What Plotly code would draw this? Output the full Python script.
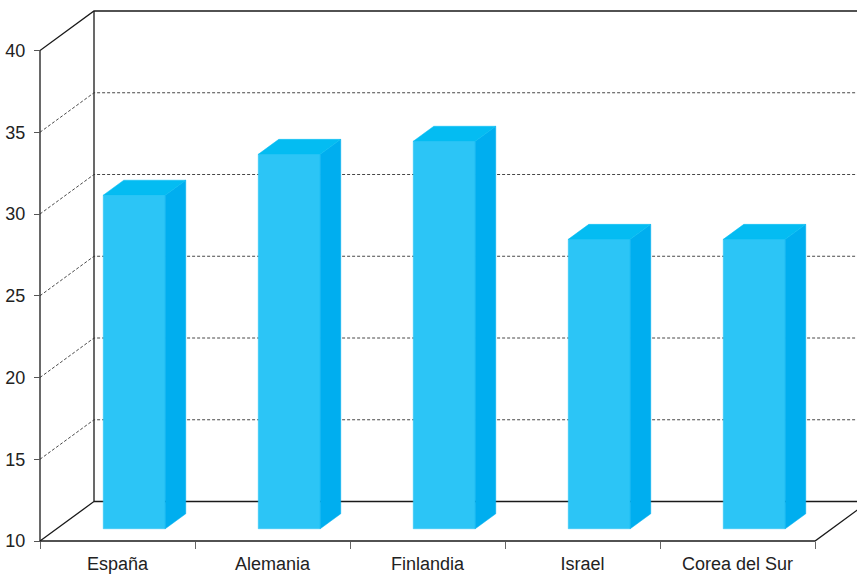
import plotly.graph_objects as go

# ---- data ----
categories = ["España", "Alemania", "Finlandia", "Israel", "Corea del Sur"]
values = [30.4, 32.9, 33.7, 27.7, 27.7]
y_ticks = [10, 15, 20, 25, 30, 35, 40]

# ---- geometry / style ----
W, H = 857, 575
ML, MB = 36, 30
PXX = 155.0      # px per category
PXY = 16.35      # px per value unit
PAD = 4
xlo = -0.5 - PAD / PXX
xhi = xlo + (W - ML) / PXX
ylo = y_ticks[0] - PAD / PXY
yhi = ylo + (H - MB) / PXY
DX = 54 / PXX        # full depth offset, x
DY = 39.5 / PXY      # full depth offset, y
D1, D2 = 0.31, 0.69  # bar depth range
HALF = 0.2

C_FRONT = "#2CC5F6"
C_SIDE = "#00AEEF"
C_TOP = "#04BCF2"
LINE_C = "#1a1a1a"

vmin, vmax = y_ticks[0], y_ticks[-1]
x0 = -0.5
xe = len(categories) - 0.5
far = xhi + 1

fig = go.Figure()

def seg_trace(pts, color, width, dash=None):
    xs, ys = [], []
    for seg in pts:
        for (a, b) in seg:
            xs.append(a); ys.append(b)
        xs.append(None); ys.append(None)
    fig.add_trace(go.Scatter(x=xs, y=ys, mode="lines",
                             line=dict(color=color, width=width, dash=dash),
                             hoverinfo="skip", showlegend=False))

# frame
frame = [
    [(x0, vmin), (x0, vmax), (x0 + DX, vmax + DY), (far, vmax + DY)],
    [(x0, vmin), (x0 + DX, vmin + DY), (x0 + DX, vmax + DY)],
    [(x0 + DX, vmin + DY), (far, vmin + DY)],
    [(x0, vmin), (xe, vmin), (xe + DX * 2, vmin + DY * 2)],
]
seg_trace(frame, LINE_C, 1.3)

# dashed grid
grid = []
for v in y_ticks[1:-1]:
    grid.append([(x0, v), (x0 + DX, v + DY), (far, v + DY)])
seg_trace(grid, "#333333", 0.9, dash="3px,2px")

# bars
ddx = (D2 - D1) * DX
ddy = (D2 - D1) * DY
def poly(xs, ys, color):
    fig.add_trace(go.Scatter(x=xs + [xs[0]], y=ys + [ys[0]], mode="lines",
                             fill="toself", fillcolor=color,
                             line=dict(color=color, width=0.5),
                             hoverinfo="skip", showlegend=False))

for i, v in enumerate(values):
    l = i - HALF + D1 * DX
    r = i + HALF + D1 * DX
    b = vmin + D1 * DY
    t = v + D1 * DY
    poly([l, r, r, l], [b, b, t, t], C_FRONT)
    poly([r, r + ddx, r + ddx, r], [b, b + ddy, t + ddy, t], C_SIDE)
    poly([l, r, r + ddx, l + ddx], [t, t, t + ddy, t + ddy], C_TOP)

FONT = "Arial, Liberation Sans, Helvetica, sans-serif"
fig.update_layout(
    width=W, height=H,
    margin=dict(l=ML, r=0, t=0, b=MB),
    paper_bgcolor="white", plot_bgcolor="white",
    font=dict(family=FONT, size=18, color="#222222"),
    xaxis=dict(range=[xlo, xhi], tickvals=list(range(len(categories))),
               ticktext=categories, ticks="", showgrid=False, zeroline=False,
               showline=False, anchor="free", position=PAD / (H - MB),
               ticklabelstandoff=10,
               tickfont=dict(size=18, color="#222222"),
               minor=dict(tickvals=[i - 0.5 for i in range(len(categories) + 1)],
                          ticks="outside", ticklen=7, tickwidth=1,
                          tickcolor="#666666", showgrid=False)),
    yaxis=dict(range=[ylo, yhi], tickvals=y_ticks, ticks="outside", ticklen=6,
               tickwidth=1, tickcolor="#555555", showgrid=False, zeroline=False,
               showline=False, anchor="free", position=PAD / (W - ML),
               ticklabelstandoff=5,
               tickfont=dict(size=18, color="#222222")),
)

fig.write_html("out.html")
